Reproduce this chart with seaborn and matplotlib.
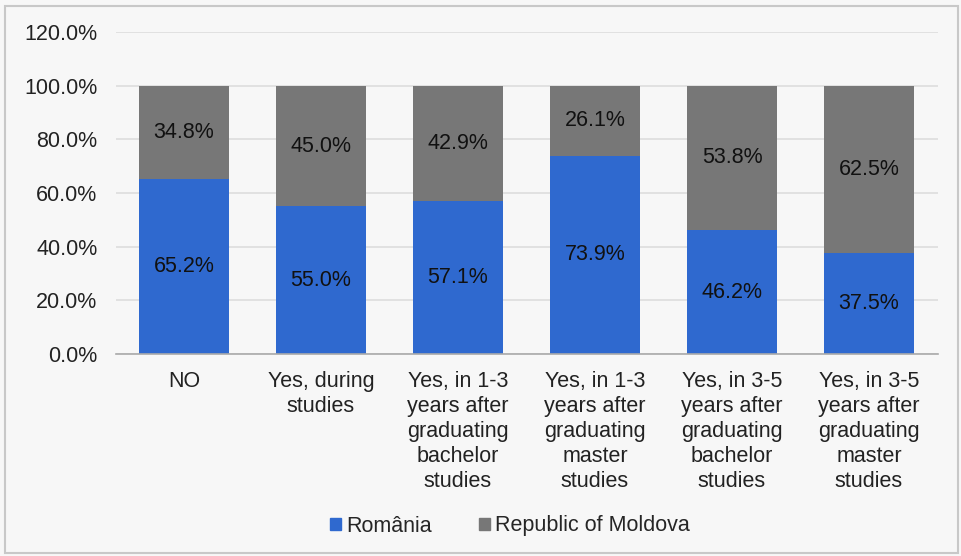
import matplotlib
matplotlib.use("Agg")
import matplotlib.pyplot as plt
import seaborn as sns
import pandas as pd
from matplotlib.patches import Patch, Rectangle

categories = [
    "NO",
    "Yes, during\nstudies",
    "Yes, in 1-3\nyears after\ngraduating\nbachelor\nstudies",
    "Yes, in 1-3\nyears after\ngraduating\nmaster\nstudies",
    "Yes, in 3-5\nyears after\ngraduating\nbachelor\nstudies",
    "Yes, in 3-5\nyears after\ngraduating\nmaster\nstudies",
]
romania = [65.2, 55.0, 57.1, 73.9, 46.2, 37.5]
moldova = [34.8, 45.0, 42.9, 26.1, 53.8, 62.5]
yticks = [0, 20, 40, 60, 80, 100, 120]

blue = "#2F69CF"
grey = "#777777"
bg = "#F7F7F7"
fs = 15.5

sns.set_style("white")
plt.rcParams["font.family"] = ["Liberation Sans", "DejaVu Sans"]

df = pd.DataFrame({"cat": categories, "ro": romania, "md": moldova})
df["total"] = df["ro"] + df["md"]

fig = plt.figure(figsize=(9.61, 5.56), dpi=100, facecolor=bg)
ax = fig.add_axes([115.5 / 961, 1 - 354 / 556, (937.5 - 115.5) / 961, (354 - 32) / 556])
ax.set_facecolor(bg)

sns.barplot(data=df, x="cat", y="total", color=grey, width=0.66, saturation=1,
            edgecolor="none", ax=ax, zorder=2)
sns.barplot(data=df, x="cat", y="ro", color=blue, width=0.66, saturation=1,
            edgecolor="none", ax=ax, zorder=3)

for i, (r, m) in enumerate(zip(romania, moldova)):
    ax.text(i, r / 2, f"{r:.1f}%", ha="center", va="center", fontsize=fs, color="#111111", zorder=4)
    ax.text(i, r + m / 2, f"{m:.1f}%", ha="center", va="center", fontsize=fs, color="#111111", zorder=4)

ax.set_ylim(0, 120)
ax.set_xlim(-0.5, len(categories) - 0.5)
ax.set_yticks(yticks)
ax.set_yticklabels([f"{v:.1f}%" for v in yticks], fontsize=fs, color="#222222")
ax.set_xticklabels(categories, fontsize=fs, color="#222222", linespacing=1.25)
ax.tick_params(axis="x", length=0, pad=12)
ax.tick_params(axis="y", length=0, pad=13)
ax.yaxis.grid(True, color="#DDDDDD", linewidth=1.2, zorder=0)
ax.set_axisbelow(True)
ax.set_xlabel("")
ax.set_ylabel("")
for s in ["top", "right", "left"]:
    ax.spines[s].set_visible(False)
ax.spines["bottom"].set_color("#AAAAAA")
ax.spines["bottom"].set_linewidth(1.2)
ax.spines["bottom"].set_zorder(5)

handles = [Patch(color=blue, label="România"), Patch(color=grey, label="Republic of Moldova")]
fig.legend(handles=handles, loc="center", bbox_to_anchor=(510 / 961, 1 - 526 / 556), ncol=2,
           frameon=False, fontsize=fs, handlelength=0.5, handleheight=0.5, handletextpad=0.25,
           columnspacing=2.2)

fig.patches.append(Rectangle((5 / 961, 3 / 556), 953 / 961, 547 / 556, transform=fig.transFigure,
                             fill=False, edgecolor="#C8C8C8", linewidth=1.5))

fig.savefig("out.png", dpi=100, facecolor=bg)
